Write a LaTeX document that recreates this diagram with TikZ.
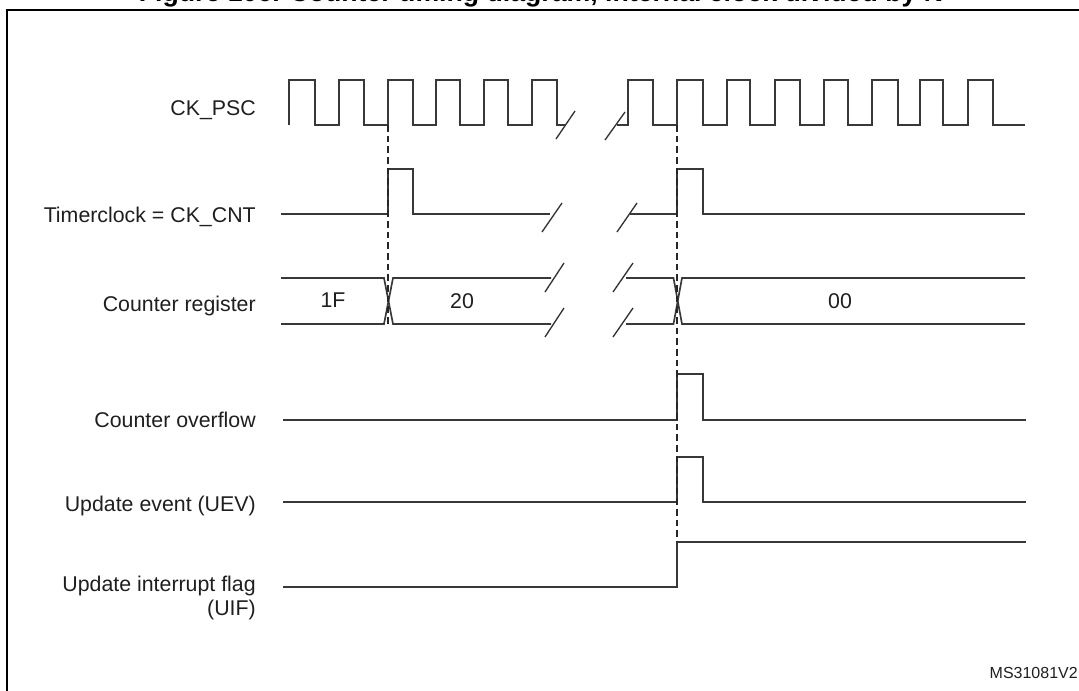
\documentclass[tikz,border=0pt]{standalone}
\usepackage{fontspec}
\setmainfont{Liberation Sans}
\begin{document}
\begin{tikzpicture}[x=0.75pt,y=-0.75pt,
  sig/.style={draw=black!78, line width=1.25pt, line join=miter},
  brk/.style={draw=black!80, line width=1pt},
  guide/.style={draw=black!85, line width=1.05pt, dash pattern=on 5pt off 3pt},
  lbl/.style={anchor=base east, inner sep=0pt, text=black!88, font=\fontsize{16}{19}\selectfont},
  val/.style={anchor=center, inner sep=0pt, text=black!88, font=\fontsize{16}{19}\selectfont}]
\useasboundingbox (0,0) rectangle (1079,690);
\clip (0,0) rectangle (1079,690);
% cut-off title and frame
\node[anchor=base, inner sep=0pt, font=\bfseries\fontsize{20}{24}\selectfont] (title) at (541,1)
  {Figure 106. Counter timing diagram, internal clock divided by N};
\draw[line width=1.7pt] (7.3,720) -- (7.3,10.3) -- (1100,10.3);
% labels
\node[lbl] (lpsc) at (256,115.7) {CK\_PSC};
\node[lbl] (lcnt) at (256,222.7) {Timerclock = CK\_CNT};
\node[lbl] (lreg) at (256,311) {Counter register};
\node[lbl] (lovf) at (256,427.3) {Counter overflow};
\node[lbl] (luev) at (256,511) {Update event (UEV)};
\node[lbl] (luif1) at (256,591.7) {Update interrupt flag};
\node[lbl] (luif2) at (256,615) {(UIF)};
% CK_PSC
\draw[sig] (289,125) |- (315,80) |- (339,125) |- (364,80) |- (388,125) |- (413,80)
  |- (436,125) |- (460,80) |- (484,125) |- (508,80) |- (532,125) |- (557,80) |- (565,125);
\draw[brk] (556,139) -- (575,111);
\draw[brk] (605,140) -- (625,112);
\draw[sig] (617,125) -- (628,125) |- (653,80) |- (677,125) |- (703,80) |- (727,125) |- (750,80)
  |- (775,125) |- (800,80) |- (824,125) |- (848,80) |- (872,125) |- (898,80) |- (920,125)
  |- (943,80) |- (968,125) |- (993,80) |- (1025,125);
% Timerclock
\draw[sig] (281,214) -- (388,214) |- (413,169) |- (550,214);
\draw[brk] (542,232) -- (562,203);
\draw[brk] (617,232) -- (637,203);
\draw[sig] (630,214) -- (677,214) |- (703,169) |- (1025,214);
% Counter register
\draw[sig] (281,278) -- (384,278) -- (393,324) -- (551,324);
\draw[sig] (281,324) -- (384,324) -- (393,278) -- (551,278);
\draw[brk] (545,292) -- (564,263);
\draw[brk] (545,337) -- (564,308);
\draw[brk] (613,292) -- (633,263);
\draw[brk] (613,337) -- (633,308);
\draw[sig] (626,278) -- (673.5,278) -- (682,324) -- (1025,324);
\draw[sig] (626,324) -- (673.5,324) -- (682,278) -- (1025,278);
\node[val] (v1f) at (333,300) {1F};
\node[val] (v20) at (462,301) {20};
\node[val] (v00) at (840,301) {00};
% Counter overflow
\draw[sig] (283,420) -- (677,420) |- (703,374) |- (1026,420);
% Update event
\draw[sig] (283,502) -- (677,502) |- (703,457) |- (1026,502);
% UIF
\draw[sig] (283,587) -- (677,587) |- (1026,542);
% guides
\draw[guide] (388,125) -- (388,324);
\draw[guide] (677,125) -- (677,542);
% reference
\node[anchor=east, inner sep=0pt, text=black!88, font=\fontsize{12}{14}\selectfont] (ref) at (1078,672.7) {MS31081V2};
\end{tikzpicture}
\end{document}
